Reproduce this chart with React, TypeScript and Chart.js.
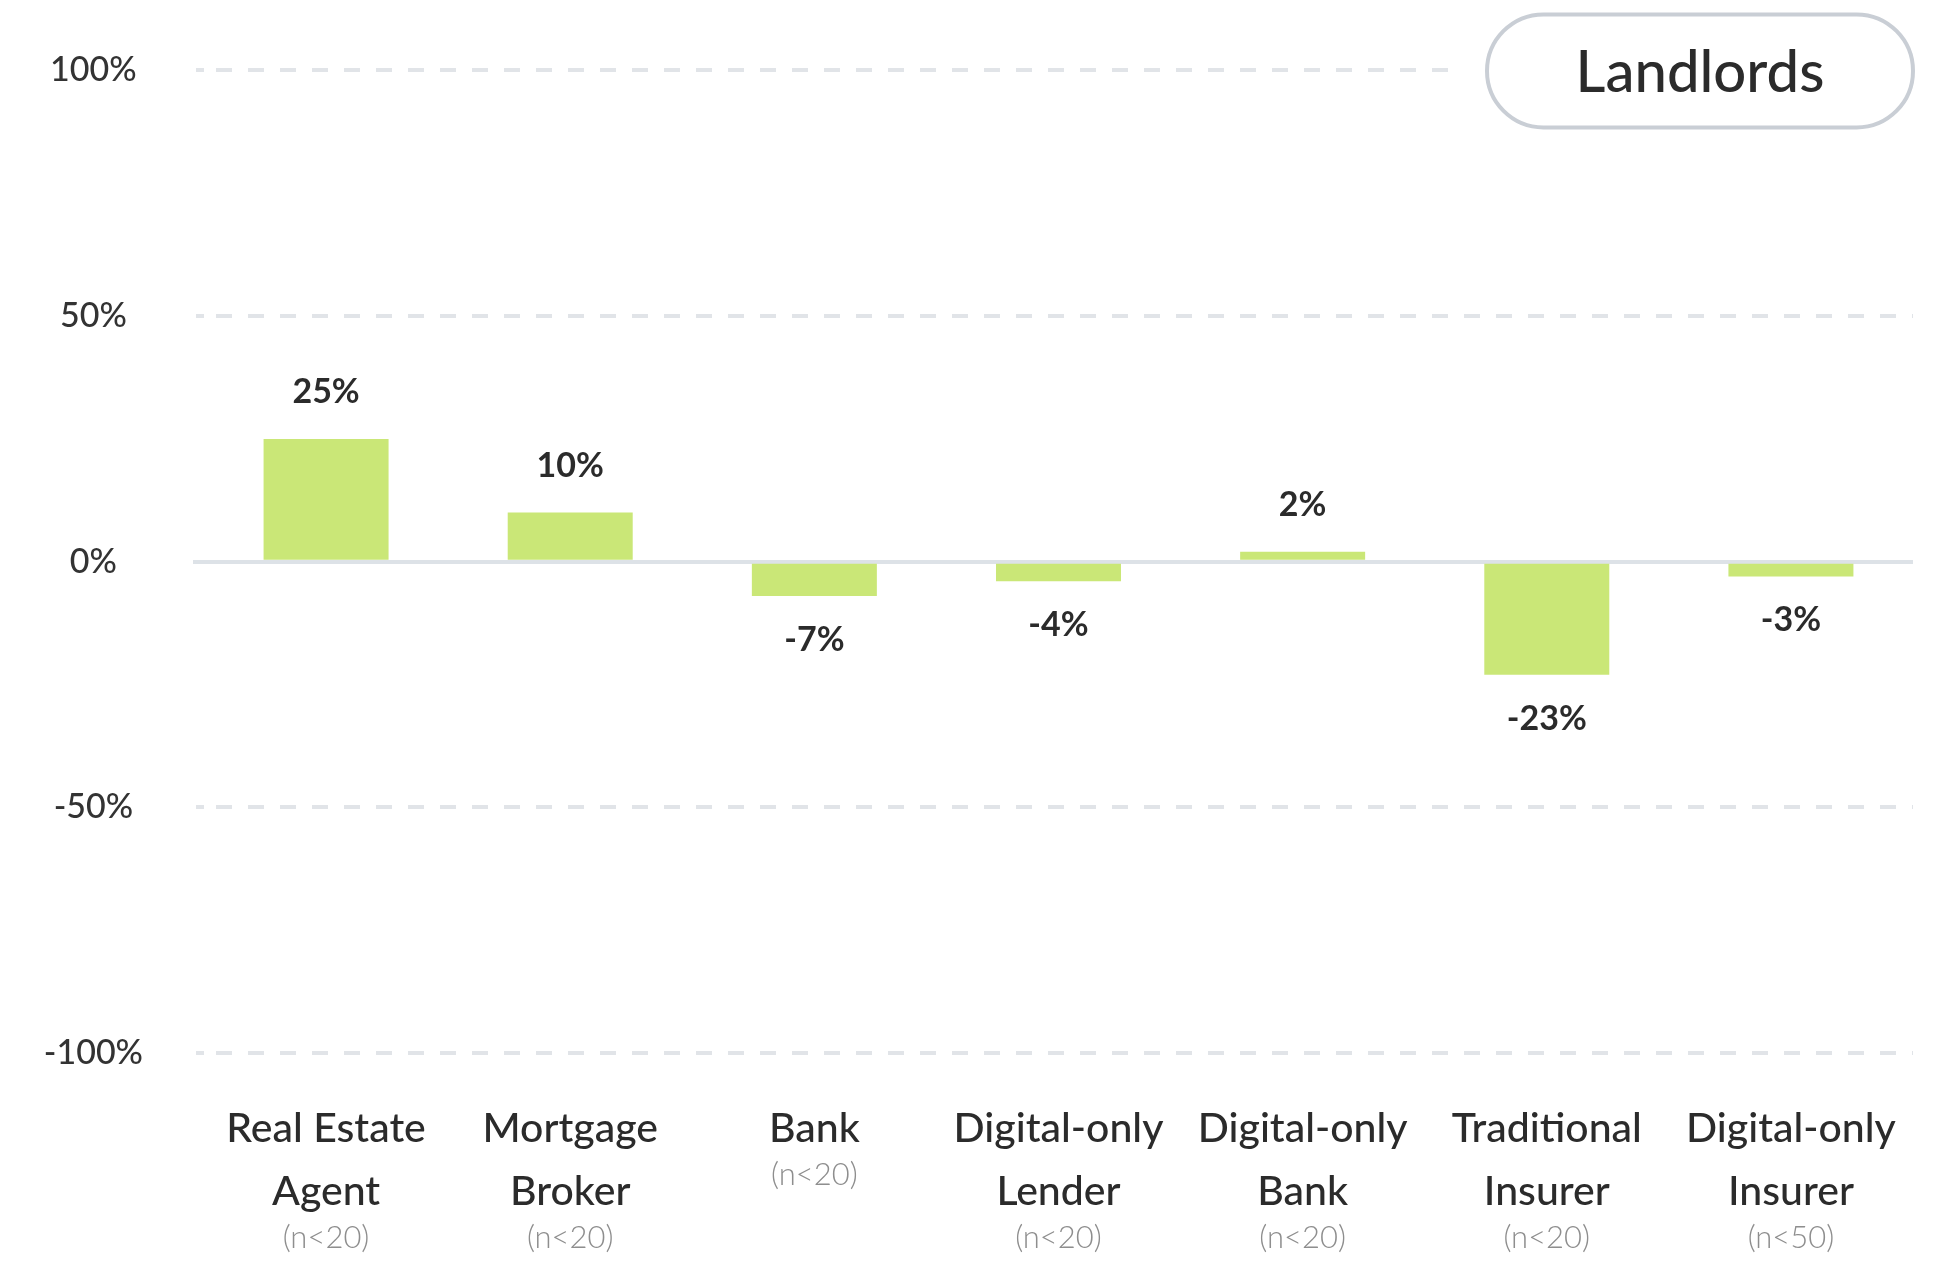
import React, { useEffect, useRef } from "react";
import { Chart, registerables } from "chart.js";

Chart.register(...registerables);

// Provider categories (each entry is one axis label, split into lines)
const categories: string[][] = [
  ["Real Estate", "Agent"],
  ["Mortgage", "Broker"],
  ["Bank"],
  ["Digital-only", "Lender"],
  ["Digital-only", "Bank"],
  ["Traditional", "Insurer"],
  ["Digital-only", "Insurer"],
];

// Sample-size notes shown under each category name
const sampleNotes: string[] = ["(n<20)", "(n<20)", "(n<20)", "(n<20)", "(n<20)", "(n<20)", "(n<50)"];

// Net score per provider, in percent
const netScores: number[] = [25, 10, -7, -4, 2, -23, -3];

// Value axis
const yMin = -100;
const yMax = 100;
const yStep = 50;

const segmentTitle = "Landlords";

const FONT = "Lato, 'Open Sans', sans-serif";
const BAR_COLOR = "#cae777";
const GRID_COLOR = "#e1e4e8";
const ZERO_COLOR = "#dde2e7";
const TEXT_COLOR = "#2b2b2b";

const X_FONT_SIZE = 41;
const X_TICK_PAD = 44;
const X_LINE_H = 63;
const NOTE_GAP = 46;

const valueLabels = {
  id: "valueLabels",
  afterDatasetsDraw(chart: any) {
    const { ctx } = chart;
    const meta = chart.getDatasetMeta(0);
    ctx.save();
    ctx.font = `bold 34px ${FONT}`;
    ctx.fillStyle = TEXT_COLOR;
    ctx.textAlign = "center";
    ctx.textBaseline = "middle";
    meta.data.forEach((bar: any, i: number) => {
      const v = netScores[i];
      const y = v >= 0 ? bar.y - 47 : bar.y + 44;
      ctx.fillText(`${v}%`, bar.x, y);
    });
    ctx.restore();
  },
};

const sampleNoteLabels = {
  id: "sampleNoteLabels",
  afterDraw(chart: any) {
    const { ctx, chartArea } = chart;
    const xScale = chart.scales.x;
    ctx.save();
    ctx.font = `300 31px ${FONT}`;
    ctx.fillStyle = "#8e8e8e";
    ctx.textAlign = "center";
    ctx.textBaseline = "middle";
    sampleNotes.forEach((note, i) => {
      const lines = categories[i].length;
      const x = xScale.getPixelForTick(i);
      const y = chartArea.bottom + X_TICK_PAD + X_LINE_H / 2 + (lines - 1) * X_LINE_H + NOTE_GAP;
      ctx.fillText(note, x, y);
    });
    ctx.restore();
  },
};

const segmentBadge = {
  id: "segmentBadge",
  afterDraw(chart: any) {
    const { ctx, chartArea } = chart;
    const cy = chart.scales.y.getPixelForValue(yMax) + 0.5;
    const h = 113;
    const w = 426;
    const right = chartArea.right;
    const left = right - w;
    const top = cy - h / 2;
    const r = h / 2;
    ctx.save();
    // keep the top gridline clear of the badge
    ctx.fillStyle = "#ffffff";
    ctx.fillRect(left - 28, cy - 8, 40, 16);
    ctx.beginPath();
    ctx.moveTo(left + r, top);
    ctx.lineTo(right - r, top);
    ctx.arc(right - r, top + r, r, -Math.PI / 2, Math.PI / 2);
    ctx.lineTo(left + r, top + h);
    ctx.arc(left + r, top + r, r, Math.PI / 2, (3 * Math.PI) / 2);
    ctx.closePath();
    ctx.fill();
    ctx.lineWidth = 4;
    ctx.strokeStyle = "#c9ced5";
    ctx.stroke();
    ctx.font = `500 58px ${FONT}`;
    ctx.fillStyle = TEXT_COLOR;
    ctx.textAlign = "center";
    ctx.textBaseline = "middle";
    ctx.fillText(segmentTitle, (left + right) / 2, cy + 2);
    ctx.restore();
  },
};

export default function App() {
  const canvasRef = useRef<HTMLCanvasElement | null>(null);

  useEffect(() => {
    if (!canvasRef.current) return;
    const chart = new Chart(canvasRef.current, {
      type: "bar",
      data: {
        labels: categories,
        datasets: [
          {
            data: netScores,
            backgroundColor: BAR_COLOR,
            borderWidth: 0,
            barPercentage: 0.512,
            categoryPercentage: 1,
          },
        ],
      },
      options: {
        responsive: false,
        animation: false,
        devicePixelRatio: 1,
        layout: { padding: { top: 69, right: 35, bottom: 0, left: 0 } },
        plugins: {
          legend: { display: false },
          tooltip: { enabled: false },
          title: { display: false },
        },
        scales: {
          x: {
            grid: { display: false, drawTicks: false },
            border: { display: false },
            ticks: {
              padding: X_TICK_PAD,
              color: TEXT_COLOR,
              maxRotation: 0,
              autoSkip: false,
              font: { family: FONT, size: X_FONT_SIZE, weight: 500, lineHeight: X_LINE_H / X_FONT_SIZE },
            },
            afterFit: (scale: any) => {
              scale.height = 210;
            },
          },
          y: {
            min: yMin,
            max: yMax,
            ticks: {
              stepSize: yStep,
              padding: 50,
              crossAlign: "center",
              color: "#333333",
              font: { family: FONT, size: 34, weight: 500 },
              callback: (v: any) => `${v}%`,
            },
            grid: {
              color: (c: any) => (c.tick && c.tick.value === 0 ? ZERO_COLOR : GRID_COLOR),
              lineWidth: 4,
              tickLength: 11,
              tickBorderDash: (c: any) => (c.tick && c.tick.value === 0 ? [] : [8, 100]),
              tickBorderDashOffset: 105,
            },
            border: {
              display: false,
              dash: (c: any) => (c.tick && c.tick.value === 0 ? [] : [16, 16]),
              dashOffset: 20,
            },
            afterFit: (scale: any) => {
              scale.width = 204;
            },
          },
        },
      },
      plugins: [valueLabels, sampleNoteLabels, segmentBadge],
    } as any);
    return () => chart.destroy();
  }, []);

  return (
    <div style={{ position: "absolute", left: 0, top: 0, width: 1948, height: 1263, background: "#ffffff" }}>
      <canvas ref={canvasRef} width={1948} height={1263} />
    </div>
  );
}
